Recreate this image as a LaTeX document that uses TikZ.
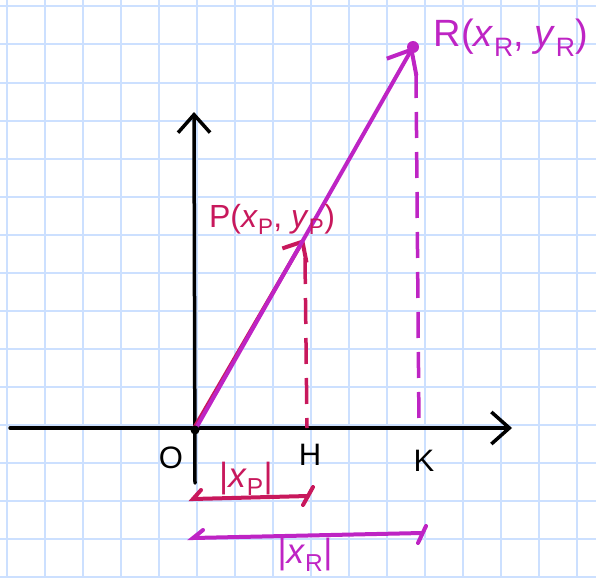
\documentclass[tikz,border=0pt]{standalone}
\usepackage{fontspec}
\setmainfont{Liberation Sans}
\usetikzlibrary{arrows.meta}
\definecolor{gridblue}{RGB}{204,224,255}
\definecolor{mag}{RGB}{190,36,196}
\definecolor{crim}{RGB}{200,24,92}
\begin{document}
\begin{tikzpicture}[x=1pt,y=-1pt,
  gridline/.style={gridblue,line width=2pt},
  axisline/.style={black,line width=3.5pt,line cap=round,-{Straight Barb[length=18pt,width=32pt]}},
  magline/.style={mag,line width=4pt,line cap=round},
  crimline/.style={crim,line width=4pt,line cap=round},
  dashline/.style={line width=3.5pt,dash pattern=on 26pt off 14pt},
  lbl/.style={inner sep=0pt,font=\fontsize{31}{33}\selectfont},
  plbl/.style={inner sep=0pt,font=\fontsize{32}{34}\selectfont},
  biglbl/.style={inner sep=0pt,font=\fontsize{38}{40}\selectfont},
  abslbl/.style={inner sep=0pt,font=\fontsize{35}{37}\selectfont}
]
\useasboundingbox (0,0) rectangle (596,578);
\fill[white] (0,0) rectangle (596,578);
\foreach \i in {0,...,15} {
  \draw[gridline] (6.5+38*\i,0) -- (6.5+38*\i,578);
  \draw[gridline] (0,6.5+38*\i) -- (596,6.5+38*\i);
}
% coordinates
\coordinate (o) at (195,430);
\coordinate (p) at (304,239);
\coordinate (r) at (413,47);
\coordinate (h) at (307,428);
\coordinate (ptop) at (305,258);
\coordinate (rtop) at (416,72);
\coordinate (k) at (419,428);
\coordinate (xl) at (10,428);
\coordinate (xr) at (512,428);
\coordinate (yb) at (195,483);
\coordinate (yt) at (194,112);
% axes
\draw[axisline] (xl) -- (xr);
\draw[axisline] (yb) -- (yt);
% dashed drops
\draw[crim,dashline] (ptop) -- (h);
\draw[mag,dashline] (rtop) -- (k);
% vectors
\draw[crimline,-{Straight Barb[length=16pt,width=28pt]}] ([xshift=-2pt]o) -- (p);
\draw[magline,-{Straight Barb[length=20pt,width=34pt]}] (o) -- (r);
\fill[mag] (r) circle (6pt);
\fill[black] (o) circle (4.5pt);
% labels
\node[biglbl,mag] (rl) at (511,38) {R(\textit{x}\textsubscript{R}, \textit{y}\textsubscript{R})};
\node[plbl,crim] (pl) at (272,219) {P(\textit{x}\textsubscript{P}, \textit{y}\textsubscript{P})};
\node[lbl] (ol) at (171,458) {O};
\node[lbl] (hl) at (310,455) {H};
\node[lbl] (kl) at (424,461) {K};
\node[abslbl,crim] (xpl) at (246,479) {|\textit{x}\textsubscript{P}|};
\node[abslbl,mag] (xrl) at (305,555) {|\textit{x}\textsubscript{R}|};
% brackets
\coordinate (b1l) at (193,499);
\coordinate (b1r) at (308,496);
\coordinate (b1a) at (201,490);
\coordinate (b1t1) at (303,505);
\coordinate (b1t2) at (313,487);
\draw[crimline] (b1a) -- (b1l) -- (b1r);
\draw[crimline] (b1t1) -- (b1t2);
\coordinate (b2l) at (193,538);
\coordinate (b2r) at (422,533);
\coordinate (b2a) at (203,530);
\coordinate (b2t1) at (418,543);
\coordinate (b2t2) at (426,526);
\draw[magline] (b2a) -- (b2l) -- (b2r);
\draw[magline] (b2t1) -- (b2t2);
\end{tikzpicture}
\end{document}
